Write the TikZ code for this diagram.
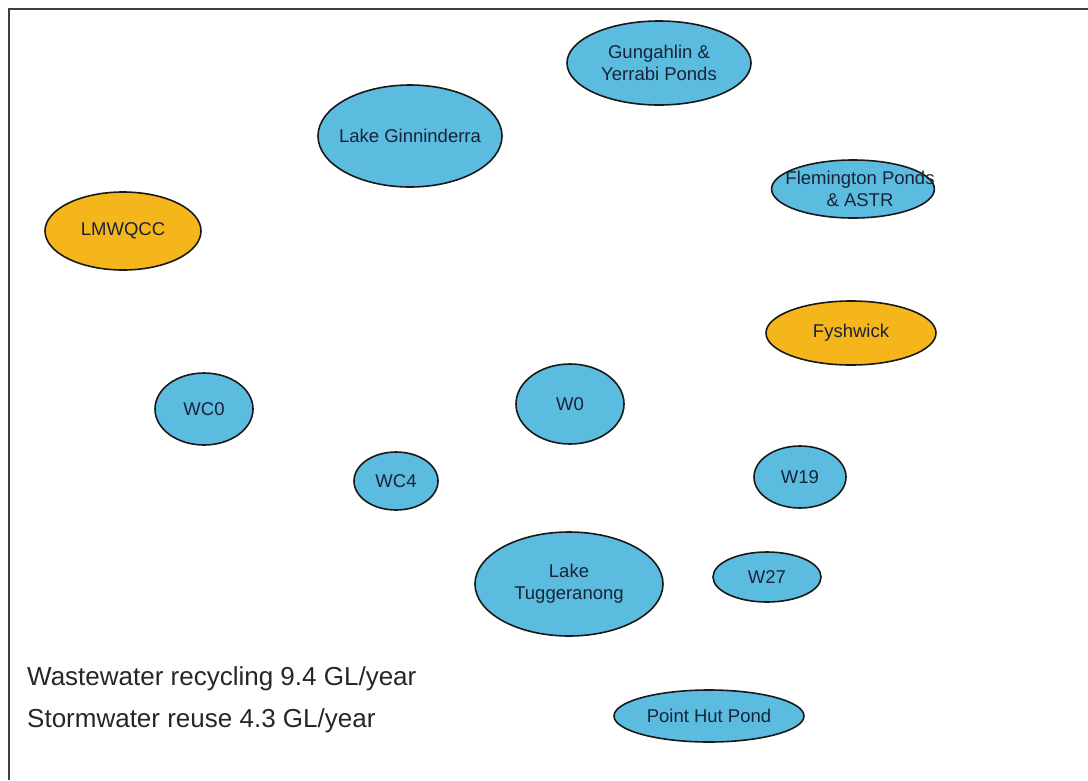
\documentclass[tikz,border=0pt]{standalone}
\usepackage{fontspec}
\setmainfont{Liberation Sans}
\usetikzlibrary{shapes.geometric}
\definecolor{pond}{RGB}{92,188,224}
\definecolor{plant}{RGB}{245,182,28}
\definecolor{ink}{RGB}{25,35,55}
\tikzset{
  site/.style={ellipse, draw=black!90, line width=1.6pt, inner sep=0pt,
    font=\fontsize{18.5}{22}\selectfont, text=ink, align=center},
  water/.style={site, fill=pond},
  works/.style={site, fill=plant},
  legend/.style={anchor=base west, inner sep=0pt, text=black!85,
    font=\fontsize{26}{30}\selectfont},
}
\begin{document}
\begin{tikzpicture}[x=1pt,y=-1pt]
\useasboundingbox (0,0) rectangle (1088,780);
\draw[line width=2pt, black!75] (9,780) -- (9,9) -- (1088,9);

\node[water, minimum width=184pt, minimum height=84pt] (gung) at (659,63) {Gungahlin \&\\Yerrabi Ponds};
\node[water, minimum width=184pt, minimum height=102pt, inner xsep=-8pt] (ginn) at (410,136) {Lake Ginninderra};
\node[water, minimum width=162pt, minimum height=58pt, inner xsep=-24pt] (flem) at (853,189) {\hspace*{14pt}Flemington Ponds\\\hspace*{14pt}\& ASTR};
\node[works, minimum width=156pt, minimum height=78pt] (lmw) at (123,231) {LMWQCC};
\node[works, minimum width=170pt, minimum height=64pt] (fysh) at (851,333) {Fyshwick};
\node[water, minimum width=98pt, minimum height=72pt] (wc0) at (204,409) {WC0};
\node[water, minimum width=108pt, minimum height=80pt] (w0) at (570,404) {W0};
\node[water, minimum width=84pt, minimum height=58pt] (wc4) at (396,481) {WC4};
\node[water, minimum width=92pt, minimum height=62pt] (w19) at (800,477) {W19};
\node[water, minimum width=188pt, minimum height=104pt] (tugg) at (569,584) {Lake\\Tuggeranong};
\node[water, minimum width=108pt, minimum height=50pt] (w27) at (767,577) {W27};
\node[water, minimum width=190pt, minimum height=52pt] (phut) at (709,716) {Point Hut Pond};

\node[legend] (waste) at (27,685) {Wastewater recycling 9.4 GL/year};
\node[legend] (storm) at (27,727) {Stormwater reuse 4.3 GL/year};
\end{tikzpicture}
\end{document}
